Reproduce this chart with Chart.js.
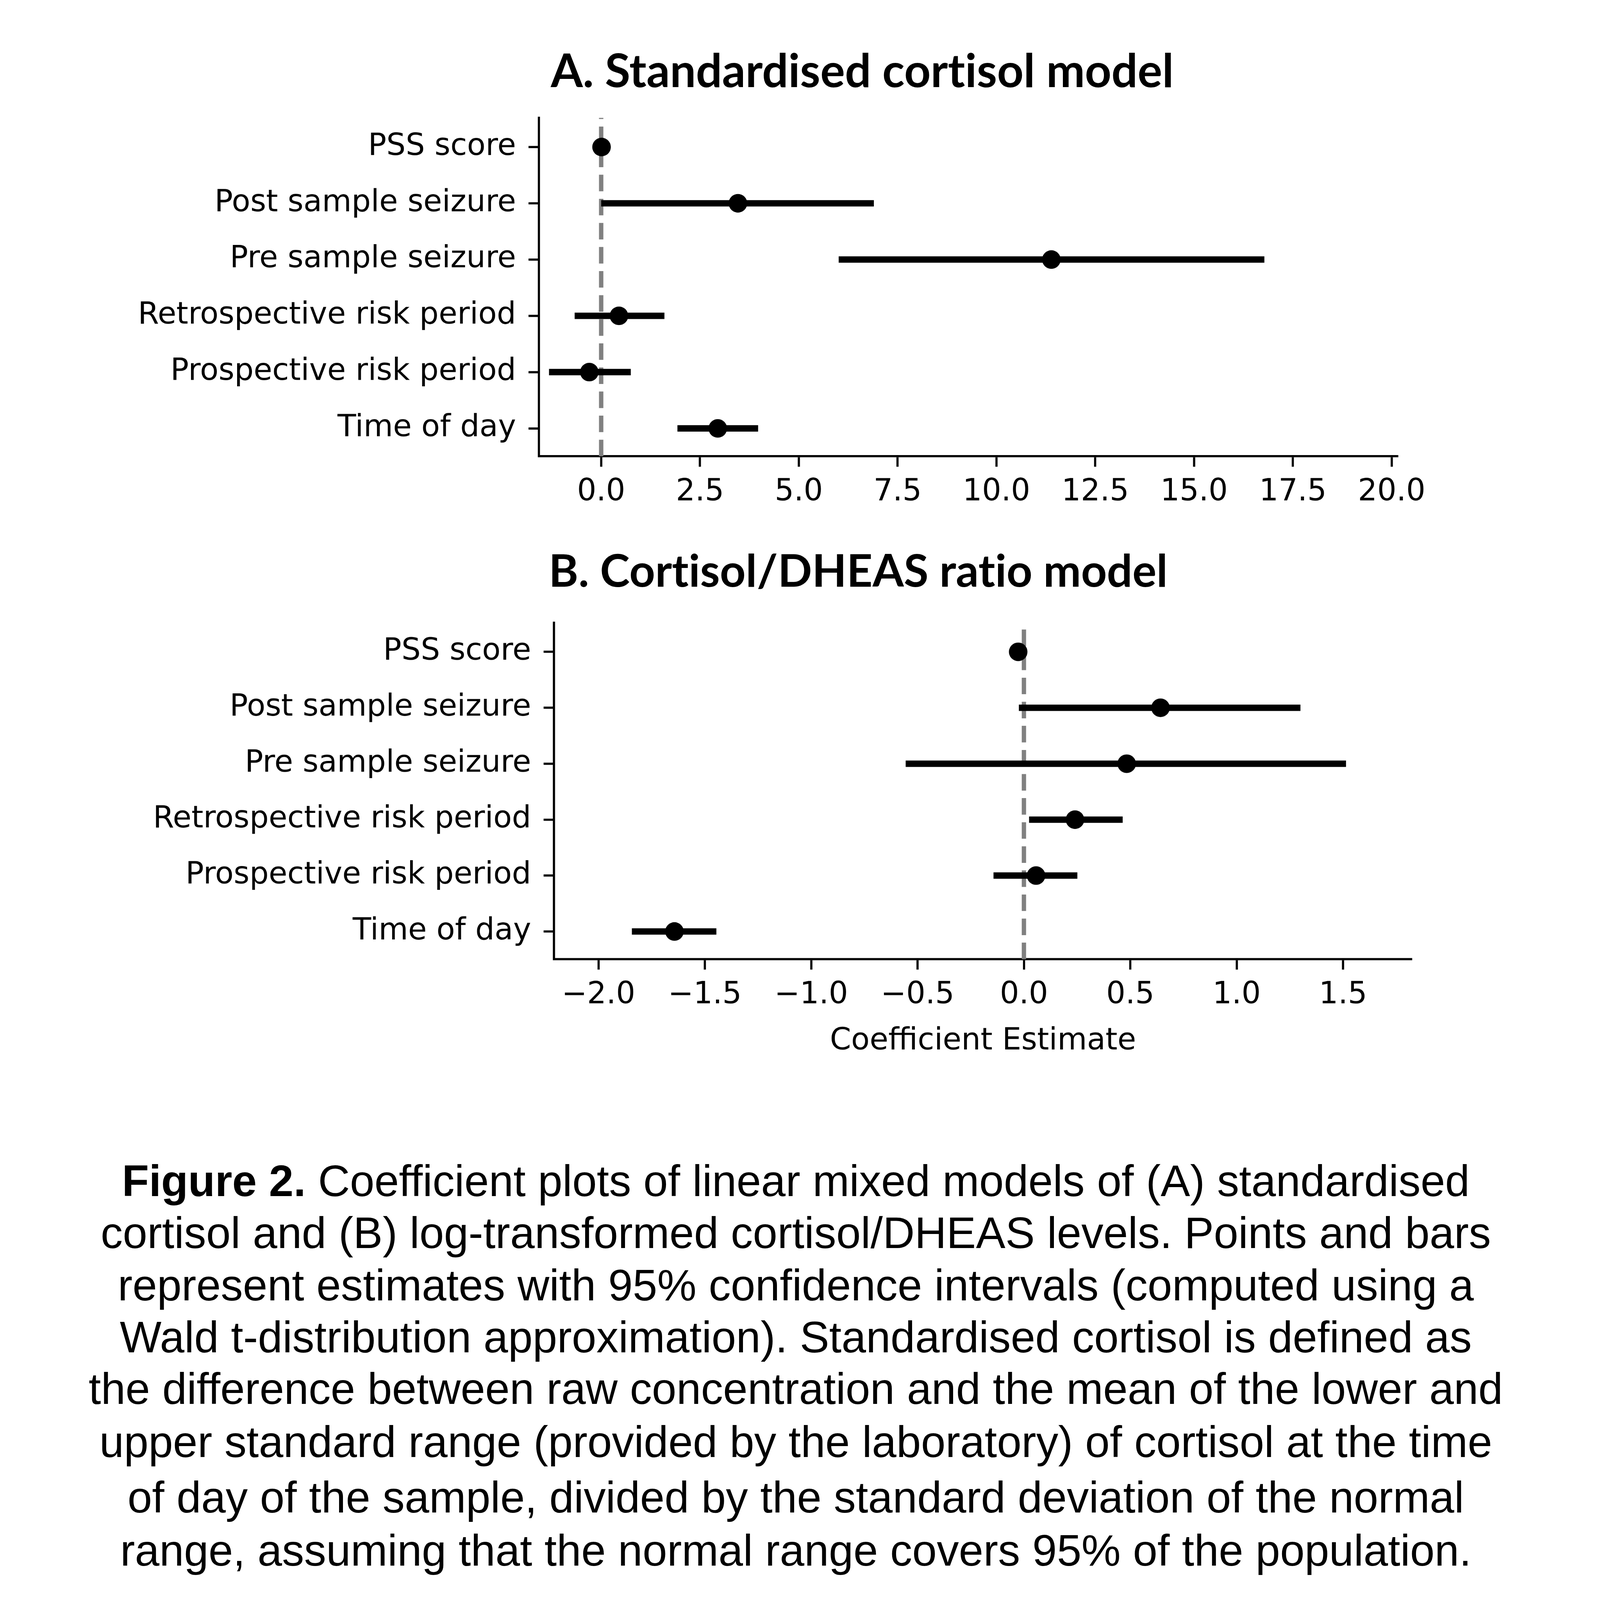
<!DOCTYPE html>
<html>
<head>
<meta charset="utf-8">
<script src="https://cdn.jsdelivr.net/npm/chart.js@4.4.0/dist/chart.umd.min.js"></script>
<style>
  html, body { margin:0; padding:0; background:#fff; overflow:hidden; }
  #page { width:5513px; height:5513px; position:absolute; left:0; top:0; transform-origin:0 0; background:#fff; }
  canvas { position:absolute; left:0; }
  .ttl { position:absolute; font-family:'Lato','Open Sans',sans-serif; font-weight:700; color:#000;
         white-space:nowrap; transform:translate(-50%,-50%); font-size:159px; line-height:1; z-index:5;
         font-variant-ligatures:none; }
  .cap { position:absolute; left:2742px; transform:translate(-50%,-50%); font-family:'Liberation Sans',Arial,sans-serif;
         font-size:152px; line-height:1; white-space:nowrap; color:#000; z-index:5; }
</style>
</head>
<body>
<div id="page">
<div class="ttl" style="left:2971px; top:239px;">A. Standardised cortisol model</div>
<div class="ttl" style="left:2957px; top:1962px; font-size:155px;">B. Cortisol/DHEAS ratio model</div>
<canvas id="cA" width="5513" height="1600" style="top:300px;"></canvas>
<canvas id="cB" width="5513" height="1700" style="top:2040px;"></canvas>

<div class="cap" style="top:4068px;"><b>Figure 2.</b> Coefficient plots of linear mixed models of (A) standardised</div>
<div class="cap" style="top:4247px;">cortisol and (B) log-transformed cortisol/DHEAS levels. Points and bars</div>
<div class="cap" style="top:4427px;">represent estimates with 95% confidence intervals (computed using a</div>
<div class="cap" style="top:4606px;">Wald t-distribution approximation). Standardised cortisol is defined as</div>
<div class="cap" style="top:4785px;">the difference between raw concentration and the mean of the lower and</div>
<div class="cap" style="top:4968px;">upper standard range (provided by the laboratory) of cortisol at the time</div>
<div class="cap" style="top:5158px;">of day of the sample, divided by the standard deviation of the normal</div>
<div class="cap" style="top:5341px;">range, assuming that the normal range covers 95% of the population.</div>
</div>

<script>
// ---- Data ----
const categories = ['PSS score', 'Post sample seizure', 'Pre sample seizure',
                    'Retrospective risk period', 'Prospective risk period', 'Time of day'];

const estA   = [0.01, 3.46, 11.39, 0.45, -0.30, 2.95];
const lowerA = [-0.04, 0.00, 6.01, -0.67, -1.32, 1.93];
const upperA = [0.06, 6.90, 16.78, 1.60, 0.75, 3.97];

const estB   = [-0.027, 0.642, 0.483, 0.240, 0.057, -1.643];
const lowerB = [-0.035, -0.024, -0.556, 0.024, -0.143, -1.843];
const upperB = [-0.019, 1.300, 1.514, 0.464, 0.251, -1.446];

const tickValsA = [0, 2.5, 5, 7.5, 10, 12.5, 15, 17.5, 20];
const tickLabelsA = ['0.0', '2.5', '5.0', '7.5', '10.0', '12.5', '15.0', '17.5', '20.0'];
const tickValsB = [-2, -1.5, -1, -0.5, 0, 0.5, 1, 1.5];
const tickLabelsB = ['\u22122.0', '\u22121.5', '\u22121.0', '\u22120.5', '0.0', '0.5', '1.0', '1.5'];

const xLabelB = 'Coefficient Estimate';

// ---- Fit the 5513px design to the actual viewport ----
(function fit() {
  const vw = document.documentElement.clientWidth || window.innerWidth;
  const vh = document.documentElement.clientHeight || window.innerHeight;
  const s = Math.min(vw, vh) / 5513;
  document.getElementById('page').style.transform = 'scale(' + s + ')';
})();

// ---- Builder ----
function buildChart(canvasId, est, lo, hi, xmin, xmax, tickVals, tickLabels, cfg) {
  const datasets = [];
  datasets.push({
    data: est.map((v, i) => ({x: v, y: i})),
    backgroundColor: '#000', borderWidth: 0, pointRadius: 32, pointHoverRadius: 32,
    showLine: false, order: 0
  });
  lo.forEach((l, i) => {
    datasets.push({
      data: [{x: l, y: i}, {x: hi[i], y: i}],
      showLine: true, borderColor: '#000', borderWidth: 22, borderCapStyle: 'butt',
      pointRadius: 0, order: 1
    });
  });
  const yMin = -0.52, yMax = 5.495;
  datasets.push({
    data: [{x: 0, y: yMax}, {x: 0, y: yMin}],
    showLine: true, borderColor: '#808080', borderWidth: 15, borderDash: [57, 26],
    borderCapStyle: 'butt', pointRadius: 0, order: 2
  });

  const tickFont = {family: 'DejaVu Sans', size: 104.5};
  return new Chart(document.getElementById(canvasId), {
    type: 'scatter',
    data: {datasets},
    options: {
      responsive: false, animation: false, devicePixelRatio: 1,
      layout: {padding: {top: cfg.padTop, right: cfg.padRight, left: 0, bottom: 0}},
      plugins: {legend: {display: false}, tooltip: {enabled: false}},
      scales: {
        x: {
          type: 'linear', min: xmin, max: xmax,
          afterBuildTicks: s => { s.ticks = tickVals.map(v => ({value: v})); },
          afterFit: s => { s.height = cfg.xHeight; },
          ticks: {
            font: tickFont, color: '#000', padding: 26, maxRotation: 0, autoSkip: false,
            callback: (v, i) => tickLabels[i]
          },
          grid: {drawOnChartArea: false, drawTicks: true, tickLength: 36, tickWidth: 7.5, tickColor: '#000'},
          border: {display: true, color: '#000', width: 7.5},
          title: cfg.xTitle ? {display: true, text: cfg.xTitle, color: '#000',
                  font: {family: 'DejaVu Sans', size: 104.5}, padding: {top: 0, bottom: cfg.titlePadBottom}} : {display: false}
        },
        y: {
          type: 'linear', reverse: true, min: yMin, max: yMax,
          afterBuildTicks: s => { s.ticks = categories.map((c, i) => ({value: i})); },
          afterFit: s => { s.width = cfg.yWidth; },
          ticks: {
            font: tickFont, color: '#000', padding: 43, autoSkip: false,
            callback: (v) => categories[v]
          },
          grid: {drawOnChartArea: false, drawTicks: true, tickLength: 36, tickWidth: 7.5, tickColor: '#000'},
          border: {display: true, color: '#000', width: 7.5}
        }
      }
    }
  });
}

buildChart('cA', estA, lowerA, upperA, -1.574, 20.16, tickValsA, tickLabelsA,
  {padTop: 93, padRight: 5513 - 4817, xHeight: 1600 - (1572 - 300), yWidth: 1857});
buildChart('cB', estB, lowerB, upperB, -2.209, 1.824, tickValsB, tickLabelsB,
  {padTop: 2126 - 2040, padRight: 5513 - 4865, xHeight: 1700 - (3305 - 2040), yWidth: 1909,
   xTitle: xLabelB, titlePadBottom: 88});
</script>
</body>
</html>
